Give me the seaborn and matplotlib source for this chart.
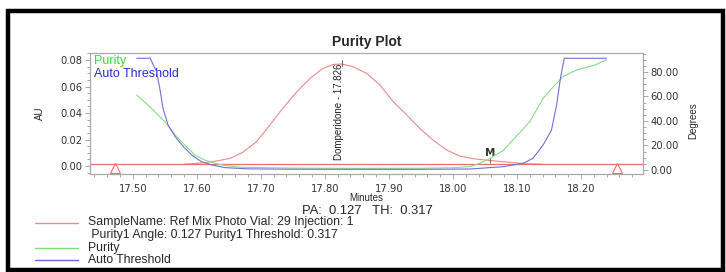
import matplotlib
matplotlib.use('Agg')
import matplotlib.pyplot as plt
import seaborn as sns
import numpy as np
import pandas as pd
from matplotlib.lines import Line2D
from matplotlib.patches import Rectangle
from matplotlib.ticker import MultipleLocator, FormatStrFormatter

# peak trace (AU)
peak_min = [17.58, 17.60, 17.62, 17.635, 17.652, 17.672, 17.693, 17.714, 17.734, 17.756,
            17.777, 17.797, 17.813, 17.826, 17.844, 17.865, 17.886, 17.907, 17.928, 17.948,
            17.969, 17.990, 18.011, 18.032, 18.058, 18.089, 18.110, 18.140]
peak_au = [0.0014, 0.0020, 0.0030, 0.0042, 0.0058, 0.0105, 0.0183, 0.0309, 0.0435, 0.0560,
           0.0662, 0.0737, 0.0766, 0.0770, 0.0750, 0.0700, 0.0611, 0.0485, 0.0385, 0.0285,
           0.0196, 0.0121, 0.0075, 0.0055, 0.0042, 0.0028, 0.0018, 0.0014]

# purity angle (degrees)
purity_min = [17.506, 17.529, 17.550, 17.566, 17.581, 17.597, 17.612, 17.628, 17.645, 17.670,
              17.750, 17.850, 17.950, 18.000, 18.027, 18.042, 18.058, 18.079, 18.100, 18.120,
              18.141, 18.157, 18.172, 18.193, 18.222, 18.240]
purity_deg = [61.2, 50.4, 39.4, 28.6, 20.4, 12.2, 8.2, 5.5, 3.5, 2.2,
              1.5, 1.3, 1.4, 1.8, 2.8, 5.5, 9.5, 16.0, 28.0, 39.4,
              58.5, 68.0, 76.2, 81.6, 85.7, 90.0]

# auto threshold (degrees)
thresh_min = [17.506, 17.527, 17.537, 17.542, 17.547, 17.555, 17.566, 17.579, 17.592, 17.607,
              17.623, 17.644, 17.680, 17.750, 17.850, 17.950, 18.027, 18.079, 18.110, 18.125,
              18.141, 18.154, 18.162, 18.168, 18.174, 18.240]
thresh_deg = [91.2, 91.2, 80.3, 66.7, 50.4, 36.7, 27.2, 19.0, 12.2, 6.8,
              4.1, 1.9, 0.9, 0.6, 0.5, 0.5, 0.8, 2.7, 5.5, 9.5,
              20.4, 32.6, 53.0, 74.9, 91.2, 91.2]

baseline_au = 0.0013
marker_min = [17.472, 18.256]
peak_name = 'Domperidone - 17.826'
peak_rt = 17.826
m_rt = 18.058

red = '#e68c8c'
red_base = '#f06c6c'
green = '#88dc88'
blue = '#7070d8'
grey = '#9a9a9a'

sns.set_style('white')
plt.rcParams['font.family'] = ['DejaVu Sans']

fig = plt.figure(figsize=(7.26, 2.72), dpi=100)
ax = fig.add_axes([90 / 726, 1 - 174 / 272, 553 / 726, 121 / 272])
ax2 = ax.twinx()

sns.lineplot(x=peak_min, y=peak_au, ax=ax, color=red, lw=0.8, sort=False)
ax.axhline(baseline_au, color=red_base, lw=0.9)
ax.plot(marker_min, [-0.0011] * 2, ls='none', marker='^', ms=7, mfc='none', mec=red_base, mew=0.8)
sns.lineplot(x=purity_min, y=purity_deg, ax=ax2, color=green, lw=0.8, sort=False)
sns.lineplot(x=thresh_min, y=thresh_deg, ax=ax2, color=blue, lw=0.8, sort=False)

ax.set_xlim(17.433, 18.297)
ax.set_ylim(-0.006, 0.0853)
ax2.set_ylim(-3.3, 95.5)

ax.xaxis.set_major_locator(MultipleLocator(0.1))
ax.xaxis.set_minor_locator(MultipleLocator(0.02))
ax.xaxis.set_major_formatter(FormatStrFormatter('%.2f'))
ax.yaxis.set_major_locator(MultipleLocator(0.02))
ax.yaxis.set_minor_locator(MultipleLocator(0.005))
ax.yaxis.set_major_formatter(FormatStrFormatter('%.2f'))
ax2.yaxis.set_major_locator(MultipleLocator(20))
ax2.yaxis.set_minor_locator(MultipleLocator(5))
ax2.yaxis.set_major_formatter(FormatStrFormatter('%.2f'))

for a in (ax, ax2):
    for s in a.spines.values():
        s.set_color('#a8a8a8')
        s.set_linewidth(0.8)
    a.tick_params(which='both', direction='out', color=grey, width=0.6, labelsize=7.2,
                  labelcolor='#333333')
    a.tick_params(which='major', length=3.5)
    a.tick_params(which='minor', length=2)
ax.tick_params(axis='x', which='both', bottom=True, pad=4)
ax.tick_params(axis='y', which='both', left=True, pad=2)
ax2.tick_params(axis='y', which='both', right=True, pad=2)
ax.set_xlabel('')
ax.set_ylabel('')
ax2.set_ylabel('')

# peak label and marker
ax.text(peak_rt - 0.004, 0.0045, peak_name, rotation=90, ha='center', va='bottom',
        fontsize=7, family='Liberation Sans', color='#222222')
ax.plot([peak_rt, peak_rt], [0.0758, 0.0798], color='#555555', lw=0.6)
ax.text(m_rt, 0.0062, 'M', ha='center', va='bottom', fontsize=7.5, fontweight='bold',
        color='#333333')
ax.plot([m_rt, m_rt], [0.0023, 0.0058], color='#555555', lw=0.6)

# inset legend
ax.text(0.008, 0.935, 'Purity', transform=ax.transAxes, color='#3ad83a', fontsize=9,
        family='Liberation Sans', va='center')
ax.text(0.008, 0.83, 'Auto Threshold', transform=ax.transAxes, color='#2a2ad0',
        fontsize=9, family='Liberation Sans', va='center')

def fy(px):
    return 1 - px / 272

fig.text(367 / 726, fy(42), 'Purity Plot', ha='center', va='center', fontsize=10,
         fontweight='bold', family='Liberation Sans')
fig.text(40 / 726, fy(113), 'AU', rotation=90, ha='center', va='center', fontsize=7,
         family='Liberation Sans')
fig.text(693 / 726, fy(121), 'Degrees', rotation=90, ha='center', va='center', fontsize=7,
         family='Liberation Sans')
fig.text(366 / 726, fy(198), 'Minutes', ha='center', va='center', fontsize=7,
         family='Liberation Sans')
fig.text(367 / 726, fy(210.5), 'PA:  0.127   TH:  0.317', ha='center', va='center', fontsize=9.4,
         family='Liberation Sans')

# bottom legend
leg_rows = [(222.5, '#ee8c8c', 'SampleName: Ref Mix Photo Vial: 29 Injection: 1'),
            (235, None, ' Purity1 Angle: 0.127 Purity1 Threshold: 0.317'),
            (247.5, '#7ede7e', 'Purity'),
            (260, '#6666d6', 'Auto Threshold')]
for ypx, col, label in leg_rows:
    if col:
        fig.add_artist(Line2D([35 / 726, 78 / 726], [fy(ypx), fy(ypx)], color=col, lw=1.0))
    fig.text(88 / 726, fy(ypx), label, ha='left', va='center', fontsize=8.8,
             family='Liberation Sans')

# outer frame
fig.add_artist(Rectangle((7.5 / 726, fy(270)), 715.5 / 726, (270 - 10.5) / 272,
                         transform=fig.transFigure, fill=False, ec='black', lw=3.2))

fig.savefig('out.png', dpi=100)
